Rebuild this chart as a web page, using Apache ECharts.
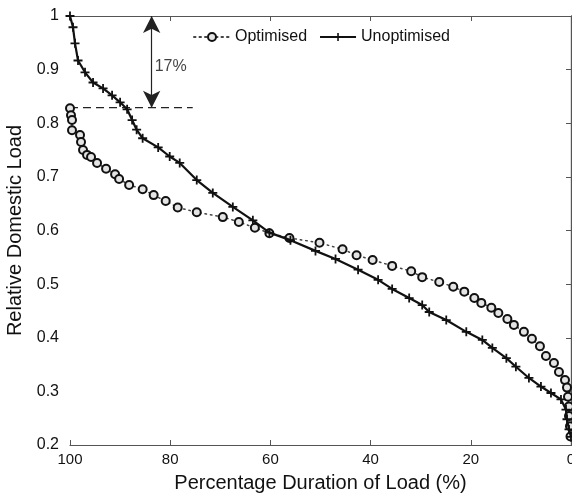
<!DOCTYPE html>
<html><head><meta charset="utf-8">
<script src="https://cdn.jsdelivr.net/npm/echarts@6/dist/echarts.min.js"></script>
<style>html,body{margin:0;padding:0;background:#fff}#c{width:572px;height:496px}</style>
</head><body><div id="c"></div>
<script>
const xTicks = [100, 80, 60, 40, 20, 0];
const yTicks = [0.2, 0.3, 0.4, 0.5, 0.6, 0.7, 0.8, 0.9, 1];
const seriesNames = ['Optimised', 'Unoptimised'];
const optimised = [
  [100,0.828],[99.8,0.815],[99.6,0.806],[99.6,0.787],[98.0,0.778],[97.8,0.765],[97.4,0.750],
  [96.6,0.741],[95.8,0.737],[94.6,0.726],[92.8,0.715],[91.0,0.705],[90.2,0.696],[88.2,0.685],
  [85.5,0.677],[83.3,0.666],[80.9,0.655],[78.5,0.643],[74.7,0.634],[69.5,0.625],[66.3,0.616],
  [63.1,0.605],[60.2,0.595],[56.2,0.586],[50.2,0.577],[45.6,0.565],[42.8,0.554],[39.6,0.545],
  [35.7,0.534],[31.9,0.524],[29.7,0.513],[26.3,0.504],[23.5,0.495],[21.3,0.486],[19.3,0.474],
  [17.9,0.465],[15.9,0.456],[14.5,0.446],[12.7,0.435],[11.4,0.424],[9.4,0.411],[7.8,0.398],
  [6.2,0.384],[5.0,0.366],[3.4,0.353],[2.4,0.336],[1.2,0.321],[0.8,0.307],[0.6,0.290],
  [0.4,0.272],[0.4,0.254],[0.2,0.235],[0.1,0.216]
];
const unoptimised = [
  [100,1.0],[99.4,0.979],[99.0,0.949],[98.4,0.917],[97.0,0.895],[95.4,0.876],[93.4,0.865],
  [91.6,0.852],[90.0,0.839],[88.6,0.826],[87.6,0.806],[86.7,0.788],[85.5,0.772],[82.4,0.755],
  [80.1,0.738],[78.1,0.726],[74.7,0.694],[71.5,0.670],[67.5,0.644],[63.5,0.619],[60.2,0.596],
  [56.0,0.582],[51.0,0.562],[47.0,0.547],[42.5,0.527],[38.5,0.508],[35.7,0.491],[32.3,0.474],
  [29.7,0.461],[28.3,0.448],[24.9,0.433],[20.9,0.411],[17.7,0.396],[15.7,0.381],[12.9,0.362],
  [11.0,0.346],[8.4,0.325],[6.0,0.309],[4.0,0.297],[2.0,0.285],[1.0,0.266],[0.8,0.248],
  [0.4,0.229],[0,0.215]
];
const gapTop = 1.0;
const gapLevel = 0.829;
const gapX = 83.7;
const dashStart = 100;
const dashEnd = 75.5;
const gapLabel = '17%';
const gapLabelY = 0.905;

const FONT = "'Liberation Sans', Arial, Helvetica, sans-serif";
const axisCol = '#555';
const plusPath = 'path://M4,0H6V4H10V6H6V10H4V6H0V4H4Z';

const chart = echarts.init(document.getElementById('c'));
const baseX = {
  type: 'value', min: xTicks[xTicks.length-1], max: xTicks[0], interval: 20, inverse: true,
  axisLine: { show: true, lineStyle: { color: axisCol, width: 1.2 } },
  axisTick: { show: true, inside: true, length: 5, lineStyle: { color: axisCol } },
  splitLine: { show: false }
};
const baseY = {
  type: 'value', min: yTicks[0], max: yTicks[yTicks.length-1], interval: 0.1,
  axisLine: { show: true, lineStyle: { color: axisCol, width: 1.2 } },
  axisTick: { show: true, inside: true, length: 5, lineStyle: { color: axisCol } },
  splitLine: { show: false }
};
chart.setOption({
  animation: false,
  backgroundColor: '#fff',
  textStyle: { fontFamily: FONT },
  grid: { left: 70, right: 1, top: 16, bottom: 51, containLabel: false, outerBoundsMode: 'none' },
  legend: {
    data: seriesNames, left: 188, top: 24, itemWidth: 36, itemHeight: 10, itemGap: 12,
    textStyle: { fontSize: 16, color: '#111', fontFamily: FONT }
  },
  xAxis: [
    Object.assign({}, baseX, {
      position: 'bottom', name: 'Percentage Duration of Load (%)', nameLocation: 'middle', nameGap: 28,
      nameTextStyle: { fontSize: 20, color: '#111', fontFamily: FONT },
      axisLabel: { show: true, fontSize: 15, color: '#111', margin: 7, fontFamily: FONT, hideOverlap: false,
        formatter: v => xTicks.includes(v) ? String(v) : '' }
    }),
    Object.assign({}, baseX, { position: 'top', axisLabel: { show: false } })
  ],
  yAxis: [
    Object.assign({}, baseY, {
      position: 'left', name: 'Relative Domestic Load', nameLocation: 'middle', nameGap: 43,
      nameTextStyle: { fontSize: 20, color: '#111', fontFamily: FONT },
      axisLabel: { show: true, fontSize: 16, color: '#111', margin: 11, fontFamily: FONT,
        formatter: v => { const r = Math.round(v * 10) / 10; return String(r); } }
    }),
    Object.assign({}, baseY, { position: 'right', axisLabel: { show: false } })
  ],
  series: [
    {
      name: seriesNames[0], type: 'line', data: optimised, xAxisIndex: 0, yAxisIndex: 0,
      symbol: 'circle', symbolSize: 8, showAllSymbol: true,
      lineStyle: { color: '#444', width: 1.5, type: [1.5, 4], cap: 'round' },
      itemStyle: { color: '#e4e4e4', borderColor: '#111', borderWidth: 2 },
      z: 3
    },
    {
      name: seriesNames[1], type: 'line', data: unoptimised, xAxisIndex: 0, yAxisIndex: 0,
      symbol: plusPath, symbolSize: 9, showAllSymbol: true,
      lineStyle: { color: '#111', width: 2.2 },
      itemStyle: { color: '#111' },
      z: 4
    },
    {
      name: 'gap', type: 'line', data: [[dashStart, gapLevel], [dashEnd, gapLevel]],
      symbol: 'none', silent: true,
      lineStyle: { color: '#222', width: 1.2, type: [8, 5] },
      markLine: {
        silent: true, symbol: ['arrow', 'arrow'], symbolSize: [13, 17],
        lineStyle: { color: '#222', width: 1.2, type: 'solid' },
        label: { show: false },
        data: [[{ coord: [gapX, gapTop] }, { coord: [gapX, gapLevel] }]]
      }
    },
    {
      name: 'gapLabel', type: 'scatter', data: [[gapX, gapLabelY]], symbolSize: 0, silent: true,
      label: { show: true, formatter: gapLabel, position: 'right', distance: 3,
        fontSize: 16, color: '#111', fontFamily: FONT }
    }
  ]
});
</script></body></html>
